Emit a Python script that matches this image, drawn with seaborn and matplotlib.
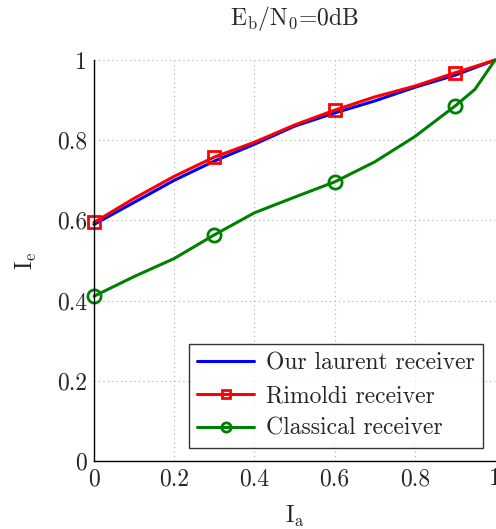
import numpy as np
import pandas as pd
import matplotlib
matplotlib.use("Agg")
import matplotlib.pyplot as plt
import seaborn as sns

# data
ia = [0.0, 0.1, 0.2, 0.3, 0.4, 0.5, 0.6, 0.7, 0.8, 0.9, 1.0]
laurent = [0.590, 0.645, 0.700, 0.748, 0.790, 0.835, 0.868, 0.898, 0.932, 0.962, 1.0]
rimoldi = [0.595, 0.655, 0.710, 0.758, 0.795, 0.838, 0.875, 0.908, 0.935, 0.968, 1.0]
ia_classic = [0.0, 0.1, 0.2, 0.3, 0.4, 0.5, 0.6, 0.7, 0.8, 0.9, 0.95, 1.0]
classical = [0.411, 0.460, 0.505, 0.564, 0.619, 0.658, 0.696, 0.746, 0.809, 0.885, 0.927, 1.0]
ticks = [0, 0.2, 0.4, 0.6, 0.8, 1]
tick_labels = ["0", "0.2", "0.4", "0.6", "0.8", "1"]

sns.set_style("white")
plt.rcParams["font.family"] = ["cmr10", "DejaVu Serif"]
plt.rcParams["mathtext.fontset"] = "cm"
plt.rcParams["axes.formatter.use_mathtext"] = True

fs = 17
fig = plt.figure(figsize=(4.96, 5.29), dpi=100)
ax = fig.add_axes([0.1895, 0.1285, 0.8085, 0.758])

df_l = pd.DataFrame({"x": ia, "y": laurent})
df_r = pd.DataFrame({"x": ia, "y": rimoldi})
df_c = pd.DataFrame({"x": ia_classic, "y": classical})

sns.lineplot(data=df_l, x="x", y="y", ax=ax, color="#0000ff", lw=2.2,
             sort=False, estimator=None, label="Our laurent receiver")
sns.lineplot(data=df_r, x="x", y="y", ax=ax, color="#ff0000", lw=2.2,
             marker="s", markersize=9, markerfacecolor="none",
             markeredgecolor="#ff0000", markeredgewidth=2, markevery=3,
             sort=False, estimator=None, label="Rimoldi receiver")
sns.lineplot(data=df_c, x="x", y="y", ax=ax, color="#008000", lw=2.2,
             marker="o", markersize=9.5, markerfacecolor="none",
             markeredgecolor="#008000", markeredgewidth=2, markevery=3,
             sort=False, estimator=None, label="Classical receiver")

for l in ax.get_lines():
    l.set_clip_on(False)

ax.set_xlim(0, 1)
ax.set_ylim(0, 1)
ax.set_xticks(ticks)
ax.set_xticklabels(tick_labels)
ax.set_yticks(ticks)
ax.set_yticklabels(tick_labels)
ax.tick_params(direction="in", length=9, width=0.8, color="#808080",
               labelsize=fs, pad=5)
ax.grid(True, linestyle=(0, (1, 3)), color="#b0b0b0", lw=0.8)

for s in ["top", "right"]:
    ax.spines[s].set_visible(False)
for s in ["left", "bottom"]:
    ax.spines[s].set_color("black")
    ax.spines[s].set_linewidth(1.0)

ax.set_xlabel(r"I$_\mathrm{a}$", fontsize=fs, labelpad=10)
ax.set_ylabel(r"I$_\mathrm{e}$", fontsize=fs, labelpad=13)
ax.set_title(r"E$_\mathrm{b}$/N$_0$=0dB", fontsize=fs, pad=25)

leg = ax.legend(loc="lower right", bbox_to_anchor=(0.97, 0.032),
                borderaxespad=0, fontsize=fs, frameon=True, fancybox=False,
                edgecolor="black", handlelength=2.4, markerscale=0.7,
                labelspacing=0.45, borderpad=0.35, handletextpad=0.5)
leg.get_frame().set_linewidth(1.0)

fig.savefig("out.png", dpi=100)
